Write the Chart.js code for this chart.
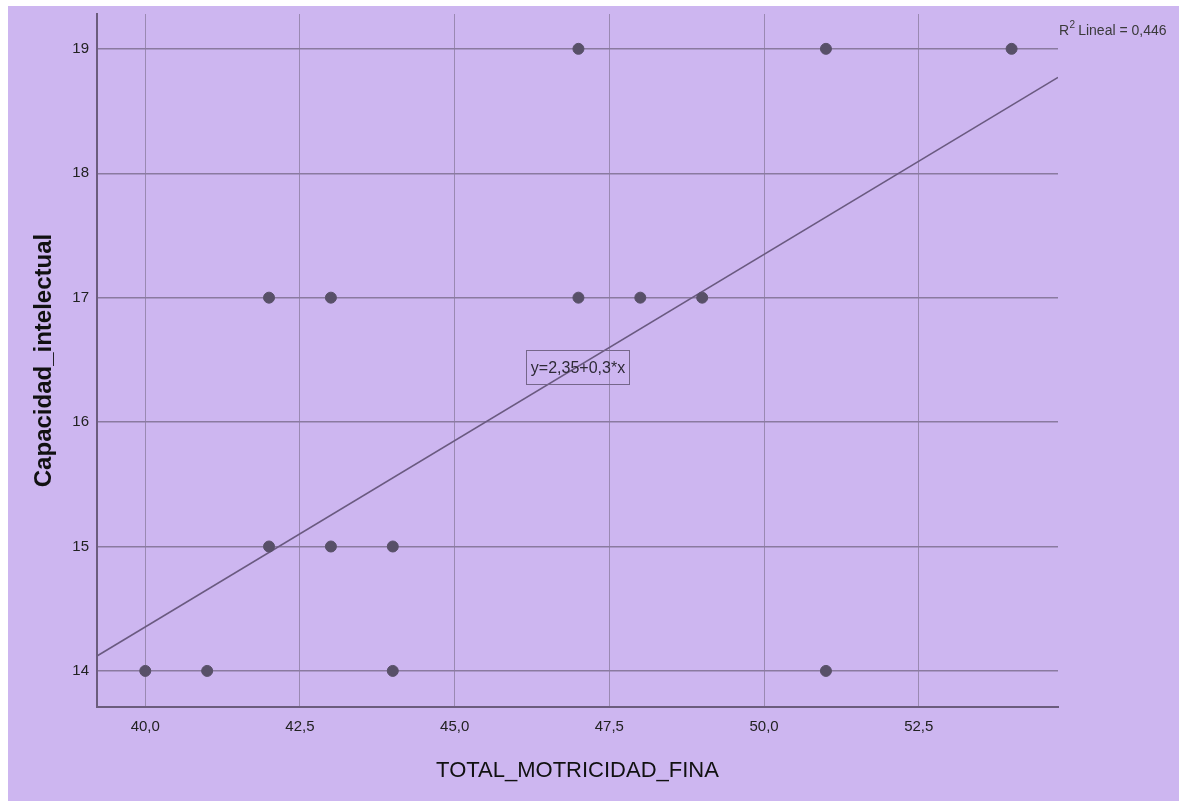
<!DOCTYPE html>
<html>
<head>
<meta charset="utf-8">
<script src="https://cdn.jsdelivr.net/npm/chart.js@4/dist/chart.umd.min.js"></script>
<style>
  html, body { margin: 0; padding: 0; background: #ffffff; overflow: hidden; }
  #fondo { position: absolute; left: 8px; top: 6px; width: 1171px; height: 795px; background: #cdb6f0; }
  canvas { display: block; }
</style>
</head>
<body>
<div id="fondo"><canvas id="grafico" width="1171" height="795"></canvas></div>
<script>
const motricidadFina = [40, 41, 44, 51, 42, 43, 44, 42, 43, 47, 48, 49, 47, 51, 54];
const capacidadIntelectual = [14, 14, 14, 14, 15, 15, 15, 17, 17, 17, 17, 17, 19, 19, 19];
const ticksX = [40, 42.5, 45, 47.5, 50, 52.5];
const ticksY = [14, 15, 16, 17, 18, 19];
// recta de ajuste y = 2,35 + 0,3*x (extremos leídos)
const rectaX = [39.22, 54.75];
const rectaY = [14.12, 18.77];
const textoEcuacion = 'y=2,35+0,3*x';
const textoR2 = 'Lineal = 0,446';

const fuente = 'Arial, "Liberation Sans", sans-serif';
const colorEje = '#6b5c7d';

// Etiquetas: ecuación en recuadro y R² arriba a la derecha
const anotaciones = {
    id: 'anotaciones',
    afterDraw(chart) {
        const { ctx, chartArea, scales: { x, y } } = chart;
        ctx.save();
        // R2 Lineal
        ctx.fillStyle = '#3a3a3a';
        ctx.textBaseline = 'alphabetic';
        ctx.font = '14px ' + fuente;
        let px = chartArea.right + 1;
        const base = chartArea.top + 21;
        ctx.fillText('R', px, base);
        px += ctx.measureText('R').width + 0.5;
        ctx.font = '10px ' + fuente;
        ctx.fillText('2', px, base - 7);
        px += ctx.measureText('2').width + 3;
        ctx.font = '14px ' + fuente;
        ctx.fillText(textoR2, px, base);

        // ecuación
        const bx = Math.round(x.getPixelForValue(46.15)) + 0.5;
        const by = Math.round(y.getPixelForValue(16.58)) + 0.5;
        ctx.strokeStyle = '#75668a';
        ctx.lineWidth = 1;
        ctx.strokeRect(bx, by, 103, 34);
        ctx.fillStyle = '#2e2a36';
        ctx.font = '16px ' + fuente;
        ctx.textAlign = 'center';
        ctx.textBaseline = 'middle';
        ctx.fillText(textoEcuacion, bx + 51.5, by + 18);
        ctx.restore();
    }
};

const formatoComa = v => v.toFixed(1).replace('.', ',');

new Chart(document.getElementById('grafico'), {
    type: 'scatter',
    data: {
        datasets: [{
            data: motricidadFina.map((v, i) => ({ x: v, y: capacidadIntelectual[i] })),
            backgroundColor: '#585068',
            borderColor: '#585068',
            pointRadius: 5.5,
            pointHoverRadius: 5.5,
            order: 1
        }, {
            type: 'line',
            data: rectaX.map((v, i) => ({ x: v, y: rectaY[i] })),
            borderColor: '#6a5a80',
            borderWidth: 1.5,
            pointRadius: 0,
            fill: false,
            order: 2
        }]
    },
    options: {
        responsive: false,
        animation: false,
        events: [],
        layout: { padding: { left: 0, right: 121, top: 8, bottom: 0 } },
        plugins: { legend: { display: false }, tooltip: { enabled: false } },
        scales: {
            x: {
                type: 'linear',
                min: 39.22,
                max: 54.75,
                border: { color: colorEje, width: 2 },
                grid: { color: '#9a89b2', lineWidth: 1, drawTicks: false },
                afterBuildTicks: s => { s.ticks = ticksX.map(v => ({ value: v })); },
                afterFit: s => { s.height = 94; s.paddingLeft = 0; s.paddingRight = 0; },
                ticks: {
                    padding: 11,
                    color: '#222222',
                    font: { family: fuente, size: 15 },
                    maxRotation: 0,
                    callback: v => formatoComa(v)
                },
                title: {
                    display: true,
                    text: 'TOTAL_MOTRICIDAD_FINA',
                    color: '#111111',
                    font: { family: fuente, size: 22 },
                    padding: { top: 0, bottom: 17 }
                }
            },
            y: {
                type: 'linear',
                min: 13.71,
                max: 19.28,
                border: { color: colorEje, width: 2 },
                grid: { color: '#8a7a9f', lineWidth: 1.5, drawTicks: false },
                afterBuildTicks: s => { s.ticks = ticksY.map(v => ({ value: v })); },
                afterFit: s => { s.width = 89; s.paddingTop = 0; s.paddingBottom = 0; },
                ticks: {
                    padding: 8,
                    color: '#222222',
                    font: { family: fuente, size: 15 },
                    callback: v => String(v)
                },
                title: {
                    display: true,
                    text: 'Capacidad_intelectual',
                    color: '#111111',
                    font: { family: fuente, size: 24, weight: 'bold' },
                    padding: { top: 22, bottom: 0 }
                }
            }
        }
    },
    plugins: [anotaciones]
});
</script>
</body>
</html>
